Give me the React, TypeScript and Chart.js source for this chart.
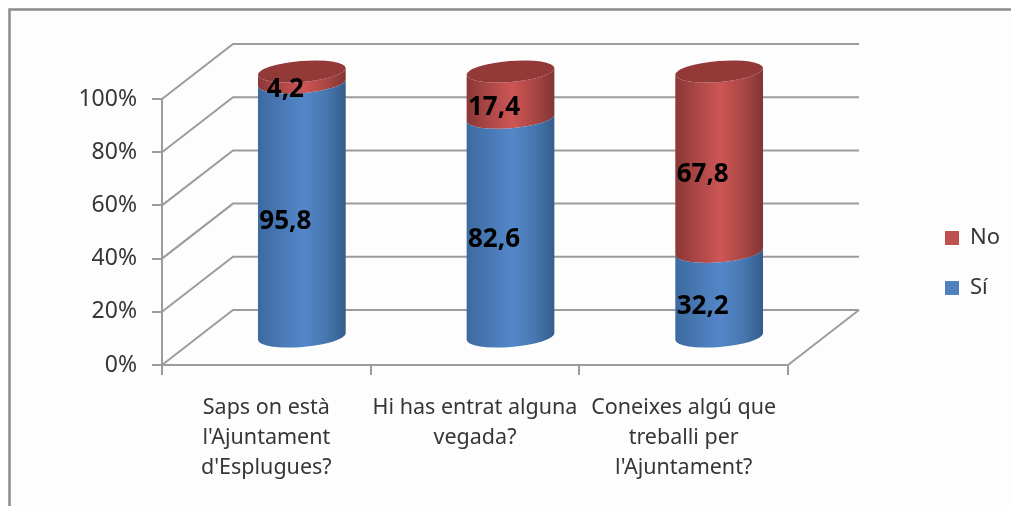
import React, { useEffect, useRef } from "react";
import { Chart, registerables } from "chart.js";

Chart.register(...registerables);

const categories = [
  ["Saps on està", "l'Ajuntament", "d'Esplugues?"],
  ["Hi has entrat alguna", "vegada?"],
  ["Coneixes algú que", "treballi per", "l'Ajuntament?"],
];
const siValues = [95.8, 82.6, 32.2];
const noValues = [4.2, 17.4, 67.8];
const siLabel = "Sí";
const noLabel = "No";

const FONT = "'Noto Sans'";
const TEXT = "#363636";
const GRID = "#9c9c9c";
const DEPTH_X = 71;
const DEPTH_Y = -55;
const BAR_W = 88;
const RY = 10.5;
const ROT = -0.08;

const shades = [
  ["#3d6a9f", "#4a7bb8", "#5487c9", "#4677b0", "#345c8b"],
  ["#8a3836", "#b3494a", "#cc5654", "#a94644", "#803533"],
];
const capColor = "#933a38";

function gradient(ctx: CanvasRenderingContext2D, cx: number, stops: string[]) {
  const g = ctx.createLinearGradient(cx - BAR_W / 2, 0, cx + BAR_W / 2, 0);
  const at = [0, 0.3, 0.52, 0.78, 1];
  stops.forEach((c, i) => g.addColorStop(at[i], c));
  return g;
}

const scene = {
  id: "scene",
  beforeDraw(chart: any) {
    const { ctx, width, height } = chart;
    ctx.save();
    ctx.fillStyle = "#ffffff";
    ctx.fillRect(0, 0, width, height);
    ctx.fillStyle = "#fdfdfd";
    ctx.fillRect(10, 10, width - 10, height - 10);
    ctx.strokeStyle = "#8c8c8c";
    ctx.lineWidth = 2.5;
    ctx.beginPath();
    ctx.moveTo(width, 9.5);
    ctx.lineTo(9.5, 9.5);
    ctx.lineTo(9.5, height);
    ctx.stroke();
    ctx.restore();
  },
  afterLayout(chart: any) {
    const lg = chart.legend;
    const w = lg.right - lg.left;
    lg.left = 917;
    lg.right = 917 + w;
    const h = lg.bottom - lg.top;
    lg.top = 199;
    lg.bottom = 199 + h;
  },
  beforeDatasetsDraw(chart: any) {
    const { ctx, chartArea, scales } = chart;
    ctx.save();
    ctx.strokeStyle = GRID;
    ctx.lineWidth = 2;
    scales.y.ticks.forEach((t: any) => {
      const y = scales.y.getPixelForValue(t.value);
      ctx.beginPath();
      ctx.moveTo(chartArea.left, y);
      ctx.lineTo(chartArea.left + DEPTH_X, y + DEPTH_Y);
      ctx.lineTo(chartArea.right + DEPTH_X, y + DEPTH_Y);
      ctx.stroke();
    });
    ctx.beginPath();
    ctx.moveTo(chartArea.right, chartArea.bottom);
    ctx.lineTo(chartArea.right + DEPTH_X, chartArea.bottom + DEPTH_Y);
    ctx.stroke();
    ctx.restore();
  },
  beforeDatasetDraw(chart: any, args: any) {
    const { ctx } = chart;
    const idx = args.index;
    const meta = args.meta;
    const dx = DEPTH_X / 2;
    const dy = DEPTH_Y / 2;
    ctx.save();
    meta.data.forEach((el: any) => {
      const cx = el.x + dx;
      const top = el.y + dy;
      const base = el.base + dy;
      ctx.beginPath();
      ctx.ellipse(cx, base, BAR_W / 2, RY, ROT, Math.PI, 0, true);
      ctx.ellipse(cx, top, BAR_W / 2, RY, ROT, 0, Math.PI, false);
      ctx.closePath();
      ctx.fillStyle = gradient(ctx, cx, shades[idx]);
      ctx.fill();
      if (idx === chart.data.datasets.length - 1) {
        ctx.beginPath();
        ctx.ellipse(cx, top, BAR_W / 2, RY, ROT, 0, Math.PI * 2);
        ctx.fillStyle = capColor;
        ctx.fill();
      }
    });
    ctx.restore();
    return false;
  },
  afterDatasetsDraw(chart: any) {
    const { ctx, data } = chart;
    ctx.save();
    ctx.fillStyle = "#000000";
    ctx.font = `bold 26px ${FONT}`;
    ctx.textAlign = "center";
    ctx.textBaseline = "middle";
    data.datasets.forEach((ds: any, i: number) => {
      chart.getDatasetMeta(i).data.forEach((el: any, j: number) => {
        const text = String(ds.data[j]).replace(".", ",");
        ctx.fillText(text, el.x + 19, (el.y + el.base) / 2 - 15);
      });
    });
    ctx.restore();
  },
};

export default function App() {
  const ref = useRef<HTMLCanvasElement>(null);
  useEffect(() => {
    const chart = new Chart(ref.current!, {
      type: "bar",
      data: {
        labels: categories as any,
        datasets: [
          { label: siLabel, data: siValues, backgroundColor: "#4f81bd", barThickness: BAR_W },
          { label: noLabel, data: noValues, backgroundColor: "#c0504d", barThickness: BAR_W },
        ],
      },
      options: {
        responsive: false,
        animation: false,
        layout: { padding: { top: 99, right: 223, left: 0, bottom: 0 } },
        plugins: {
          title: { display: false },
          tooltip: { enabled: false },
          legend: {
            position: "chartArea" as any,
            align: "start",
            reverse: true,
            labels: {
              boxWidth: 14,
              boxHeight: 14,
              padding: 28,
              color: TEXT,
              font: { family: FONT, size: 22 },
            },
          },
        },
        scales: {
          x: {
            stacked: true,
            afterFit(s: any) {
              s.height = 141;
            },
            grid: {
              offset: true,
              drawOnChartArea: false,
              drawTicks: true,
              tickLength: 10,
              color: GRID,
              lineWidth: 2,
            },
            border: { color: GRID, width: 2 },
            ticks: {
              autoSkip: false,
              maxRotation: 0,
              minRotation: 0,
              padding: 18,
              color: TEXT,
              font: { family: FONT, size: 21.5, lineHeight: "30px" },
            },
          },
          y: {
            stacked: true,
            min: 0,
            max: 100,
            afterFit(s: any) {
              s.width = 162;
            },
            grid: {
              drawOnChartArea: false,
              drawTicks: true,
              tickLength: 10,
              color: GRID,
              lineWidth: 2,
            },
            border: { color: GRID, width: 2 },
            ticks: {
              stepSize: 20,
              padding: 15,
              color: TEXT,
              font: { family: FONT, size: 23 },
              callback: (v: any) => `${v}%`,
            },
          },
        },
      },
      plugins: [scene as any],
    });
    return () => chart.destroy();
  }, []);
  return (
    <canvas
      ref={ref}
      width={1011}
      height={506}
      style={{ position: "absolute", left: 0, top: 0, width: 1011, height: 506 }}
    />
  );
}
